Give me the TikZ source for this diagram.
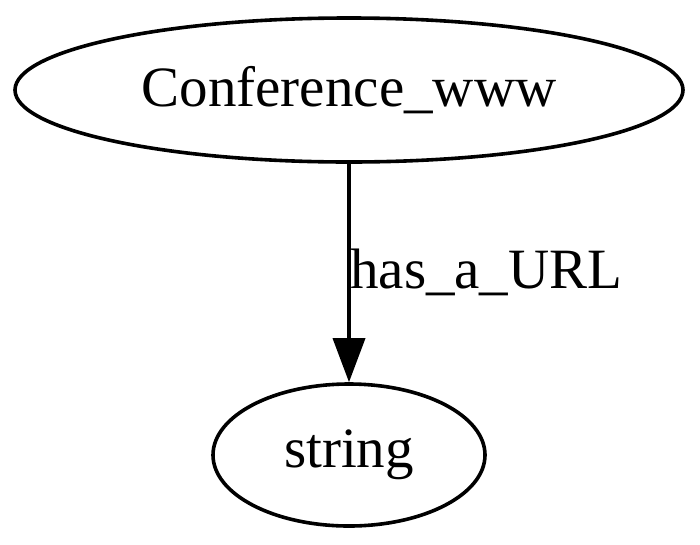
\documentclass[tikz,border=0pt]{standalone}
\usepackage{fontspec}
\setmainfont{Liberation Serif}
\usetikzlibrary{shapes.geometric,arrows.meta}
\begin{document}
\begin{tikzpicture}[x=1pt,y=-1pt,
  nodebox/.style={draw, ellipse, line width=3.6pt, inner sep=0pt, font=\fontsize{57}{62}\selectfont},
  edgelabel/.style={font=\fontsize{57}{62}\selectfont, inner sep=0pt},
  conn/.style={line width=3.6pt, -{Triangle[length=44pt,width=32pt]}}]
\useasboundingbox (0,0) rectangle (700,544);
\node[nodebox, minimum width=668pt, minimum height=144pt] (conf) at (349,90) {Conference\_www};
\node[nodebox, minimum width=272pt, minimum height=142pt] (str) at (349,455) {string};
\draw[conn] (conf) -- (str);
\node[edgelabel, anchor=base west] (lab) at (350,288) {has\_a\_URL};
\end{tikzpicture}
\end{document}
